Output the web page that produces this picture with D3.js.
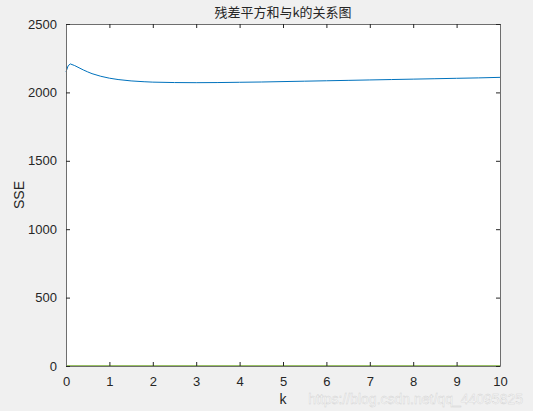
<!DOCTYPE html>
<html>
<head>
<meta charset="utf-8">
<script src="https://cdn.jsdelivr.net/npm/d3@7"></script>
<style>
  body { margin: 0; background: #f0f0f0; }
  svg { display: block; }
  .tick text { font-family: "Liberation Sans", Arial, sans-serif; font-size: 13px; fill: #262626; }
</style>
</head>
<body>
<div id="chart"></div>
<script>
// k values and SSE
var kValues = [0, 0.05, 0.1, 0.2, 0.3, 0.4, 0.5, 0.6, 0.8, 1.0, 1.2, 1.5, 1.8, 2.0, 2.5, 3, 3.5, 4, 4.5, 5, 5.5, 6, 6.5, 7, 7.5, 8, 8.5, 9, 9.5, 10];
var sseValues = [2150, 2195, 2208, 2196, 2180, 2164, 2150, 2137, 2118, 2104, 2094, 2084, 2078, 2075, 2072, 2071, 2072, 2074, 2076, 2079, 2082, 2085, 2088, 2091, 2094, 2097, 2100, 2103, 2106, 2110];
var zeroValues = kValues.map(function () { return 0; });

var xTicks = [0, 1, 2, 3, 4, 5, 6, 7, 8, 9, 10];
var yTicks = [0, 500, 1000, 1500, 2000, 2500];

var svgWidth = 533;
var svgHeight = 411;
var margin = { top: 24, right: 33, bottom: 45, left: 66 };
var chartWidth = svgWidth - margin.left - margin.right;
var chartHeight = svgHeight - margin.top - margin.bottom;

var svg = d3.select("#chart")
  .append("svg")
  .attr("width", svgWidth)
  .attr("height", svgHeight);

var chartGroup = svg.append("g")
  .attr("transform", `translate(${margin.left}, ${margin.top})`);

// white plot area
chartGroup.append("rect")
  .attr("width", chartWidth)
  .attr("height", chartHeight)
  .attr("fill", "#fff");

var xScale = d3.scaleLinear().domain([0, 10]).range([0, chartWidth]);
var yScale = d3.scaleLinear().domain([0, 2500]).range([chartHeight, 0]);

var line = d3.line()
  .x((d, i) => xScale(kValues[i]))
  .y(d => yScale(d));

chartGroup.append("path")
  .datum(sseValues)
  .attr("fill", "none")
  .attr("stroke", "#0072bd")
  .attr("stroke-width", 1)
  .attr("d", line);

chartGroup.append("path")
  .datum(zeroValues)
  .attr("fill", "none")
  .attr("stroke", "#77ac30")
  .attr("stroke-width", 1.5)
  .attr("d", line);

// axes with inward ticks (box on)
var axisColor = "#6e6e6e";
function styleAxis(g) {
  g.select(".domain").attr("stroke", axisColor);
  g.selectAll(".tick line").attr("stroke", "#262626");
}

chartGroup.append("g")
  .attr("transform", `translate(0, ${chartHeight})`)
  .call(d3.axisBottom(xScale).tickValues(xTicks).tickSizeInner(-4).tickSizeOuter(0).tickPadding(11).tickFormat(d3.format("d")))
  .call(styleAxis);

chartGroup.append("g")
  .call(d3.axisTop(xScale).tickValues(xTicks).tickSizeInner(-4).tickSizeOuter(0).tickFormat(""))
  .call(styleAxis);

chartGroup.append("g")
  .call(d3.axisLeft(yScale).tickValues(yTicks).tickSizeInner(-4).tickSizeOuter(0).tickPadding(9).tickFormat(d3.format("d")))
  .call(styleAxis);

chartGroup.append("g")
  .attr("transform", `translate(${chartWidth}, 0)`)
  .call(d3.axisRight(yScale).tickValues(yTicks).tickSizeInner(-4).tickSizeOuter(0).tickFormat(""))
  .call(styleAxis);

// title
svg.append("text")
  .attr("x", margin.left + chartWidth / 2)
  .attr("y", 17)
  .attr("text-anchor", "middle")
  .style("font-family", "'Noto Sans CJK SC', sans-serif")
  .style("font-size", "13px")
  .style("fill", "#262626")
  .text("残差平方和与k的关系图");

// axis labels
svg.append("text")
  .attr("x", margin.left + chartWidth / 2)
  .attr("y", 404)
  .attr("text-anchor", "middle")
  .style("font-family", "'Liberation Sans', Arial, sans-serif")
  .style("font-size", "14px")
  .style("fill", "#262626")
  .text("k");

svg.append("text")
  .attr("transform", "rotate(-90)")
  .attr("x", -(margin.top + chartHeight / 2))
  .attr("y", 24)
  .attr("text-anchor", "middle")
  .style("font-family", "'Liberation Sans', Arial, sans-serif")
  .style("font-size", "14px")
  .style("fill", "#262626")
  .text("SSE");

// watermark
svg.append("text")
  .attr("x", 523)
  .attr("y", 404)
  .attr("text-anchor", "end")
  .style("font-family", "'Liberation Sans', Arial, sans-serif")
  .style("font-size", "14px")
  .style("fill", "#ffffff")
  .style("fill-opacity", 0.8)
  .style("stroke", "#d0d0d0")
  .style("stroke-width", 0.4)
  .text("https://blog.csdn.net/qq_44095825");
</script>
</body>
</html>
